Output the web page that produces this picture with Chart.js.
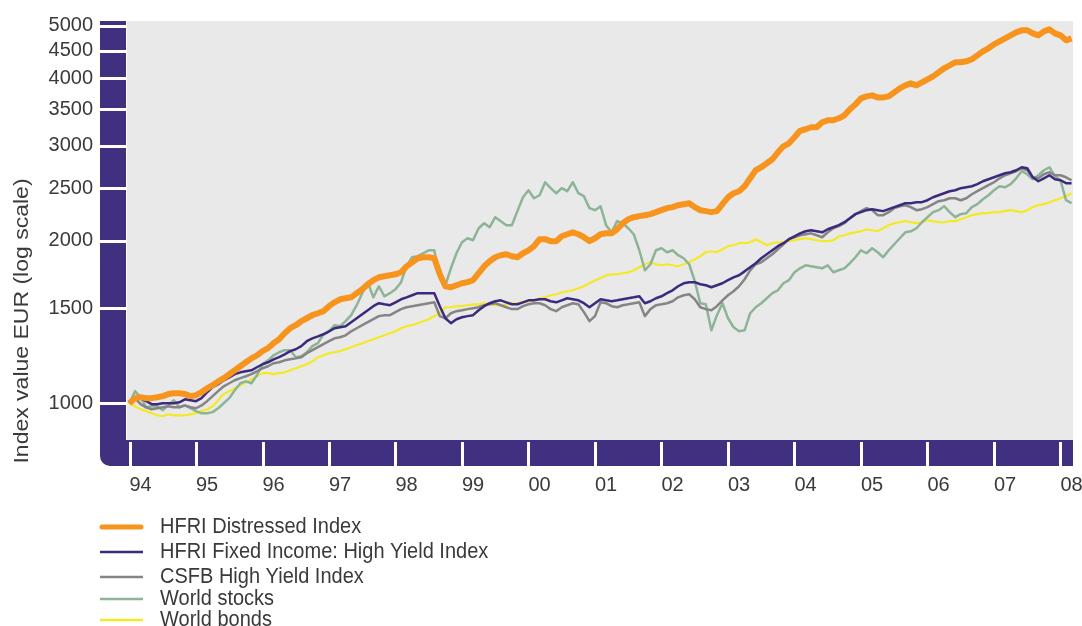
<!DOCTYPE html>
<html>
<head>
<meta charset="utf-8">
<script src="https://cdn.jsdelivr.net/npm/chart.js@4.4.1/dist/chart.umd.min.js"></script>
<style>
    html, body { margin: 0; padding: 0; background: #fff; }
</style>
</head>
<body>
<canvas id="graficoIndices" width="1082" height="626"></canvas>
<script>
// eje x: un punto por mes desde enero 1994
const primerAnio = 1994;
const yearLabels = ['94','95','96','97','98','99','00','01','02','03','04','05','06','07','08'];
const yTicks = [1000, 1500, 2000, 2500, 3000, 3500, 4000, 4500, 5000];

const seriesNames = [
    'HFRI Distressed Index',
    'HFRI Fixed Income: High Yield Index',
    'CSFB High Yield Index',
    'World stocks',
    'World bonds'
];

const distressed = [
    1000,1022,1026,1022,1022,1026,1031,1040,1044,1044,1040,1031,
    1035,1048,1066,1080,1098,1113,1132,1151,1171,1191,1211,1227,
    1249,1265,1292,1314,1348,1377,1395,1419,1437,1456,1468,1481,
    1513,1538,1558,1565,1571,1599,1626,1661,1690,1711,1719,1726,
    1733,1748,1793,1824,1856,1864,1864,1856,1733,1647,1640,1654,
    1668,1676,1690,1741,1793,1832,1864,1880,1888,1872,1864,1896,
    1920,1954,2013,2013,1996,1996,2038,2056,2073,2056,2030,1996,
    2021,2056,2064,2064,2100,2155,2192,2211,2221,2230,2240,2259,
    2278,2298,2308,2327,2337,2347,2308,2278,2269,2259,2269,2337,
    2407,2449,2470,2523,2610,2701,2736,2783,2830,2916,2991,3030,
    3109,3196,3217,3244,3244,3314,3342,3342,3371,3414,3502,3577,
    3670,3701,3717,3685,3685,3701,3765,3830,3879,3913,3879,3929,
    3980,4031,4101,4172,4225,4280,4280,4298,4335,4409,4485,4543,
    4621,4680,4740,4801,4863,4904,4904,4842,4801,4884,4925,4842,
    4801,4700,4740
];

const fixedIncomeHY = [
    1000,1026,1022,1009,996,996,1000,1000,1000,1004,1017,1013,
    1009,1022,1048,1071,1085,1103,1117,1132,1141,1146,1151,1166,
    1181,1191,1206,1217,1232,1249,1259,1276,1303,1319,1330,1342,
    1359,1377,1383,1389,1413,1437,1462,1487,1513,1532,1525,1519,
    1538,1558,1571,1585,1599,1599,1599,1599,1513,1437,1407,1431,
    1443,1450,1456,1487,1513,1532,1545,1551,1538,1525,1525,1538,
    1551,1551,1558,1558,1545,1538,1551,1565,1558,1551,1532,1506,
    1532,1558,1551,1545,1551,1558,1565,1571,1578,1532,1545,1565,
    1578,1599,1619,1647,1668,1676,1676,1661,1654,1640,1654,1668,
    1690,1711,1726,1755,1786,1817,1856,1888,1920,1954,1979,2013,
    2038,2064,2082,2091,2082,2073,2100,2118,2137,2164,2202,2240,
    2259,2278,2288,2278,2269,2288,2308,2327,2347,2347,2357,2357,
    2377,2407,2428,2449,2470,2480,2502,2512,2523,2545,2577,2599,
    2621,2644,2667,2678,2701,2736,2724,2621,2577,2610,2644,2599,
    2588,2556,2556
];

const csfbHY = [
    1000,1022,996,983,975,979,983,987,983,983,991,983,
    979,991,1009,1031,1053,1075,1089,1103,1113,1122,1132,1146,
    1161,1171,1186,1191,1201,1206,1211,1217,1238,1254,1270,1287,
    1303,1319,1325,1336,1359,1377,1395,1413,1431,1450,1456,1456,
    1475,1494,1506,1513,1519,1525,1532,1538,1450,1437,1468,1481,
    1487,1494,1500,1506,1519,1525,1532,1519,1506,1494,1494,1513,
    1525,1532,1532,1519,1494,1481,1506,1519,1532,1525,1475,1419,
    1450,1538,1532,1513,1506,1519,1525,1532,1538,1450,1494,1519,
    1525,1532,1545,1571,1585,1592,1558,1506,1494,1487,1513,1551,
    1585,1612,1647,1697,1763,1809,1824,1856,1888,1928,1970,2013,
    2030,2047,2056,2064,2047,2030,2073,2109,2128,2155,2202,2240,
    2269,2298,2278,2230,2230,2259,2298,2317,2327,2308,2278,2288,
    2308,2337,2367,2377,2397,2397,2377,2397,2438,2470,2502,2534,
    2566,2610,2644,2667,2690,2724,2701,2621,2610,2655,2678,2644,
    2644,2621,2588
];

const worldStocks = [
    1000,1053,1026,983,987,987,971,991,1013,983,991,979,
    967,958,958,963,979,1000,1022,1057,1089,1098,1089,1127,
    1181,1201,1227,1243,1254,1254,1217,1222,1243,1276,1292,1342,
    1359,1395,1389,1419,1456,1519,1599,1676,1571,1647,1578,1599,
    1626,1676,1793,1864,1872,1896,1920,1920,1704,1654,1778,1896,
    1987,2021,2004,2109,2155,2118,2211,2174,2137,2137,2269,2407,
    2480,2397,2428,2566,2502,2449,2502,2470,2566,2449,2418,2298,
    2278,2317,2137,2073,2174,2155,2109,2056,1920,1763,1809,1920,
    1937,1904,1920,1880,1856,1809,1683,1532,1525,1365,1456,1532,
    1437,1383,1359,1365,1468,1506,1532,1565,1599,1619,1668,1690,
    1748,1778,1801,1793,1786,1778,1801,1748,1763,1778,1817,1864,
    1920,1896,1937,1904,1864,1920,1970,2021,2073,2082,2109,2164,
    2211,2259,2278,2317,2259,2211,2240,2249,2308,2337,2387,2428,
    2480,2523,2512,2545,2610,2690,2655,2599,2644,2701,2736,2633,
    2588,2377,2347
];

const worldBonds = [
    1000,987,975,967,958,950,946,954,950,950,950,954,
    958,967,975,987,1013,1040,1053,1066,1080,1094,1108,1122,
    1137,1137,1132,1137,1141,1151,1161,1171,1181,1196,1217,1227,
    1238,1243,1249,1259,1270,1281,1292,1303,1314,1325,1336,1348,
    1359,1377,1389,1395,1407,1419,1431,1450,1468,1506,1506,1513,
    1513,1519,1525,1525,1532,1525,1519,1519,1525,1532,1532,1538,
    1545,1551,1565,1571,1585,1592,1605,1612,1619,1633,1647,1668,
    1690,1704,1726,1733,1733,1741,1748,1763,1786,1809,1824,1809,
    1801,1809,1801,1793,1809,1824,1848,1872,1904,1912,1904,1928,
    1954,1962,1979,1979,1987,2013,1987,1962,1979,1987,1987,1996,
    2004,2013,2021,2013,2004,1996,1996,2004,2038,2047,2064,2073,
    2082,2100,2091,2082,2109,2137,2155,2164,2174,2164,2155,2164,
    2183,2174,2164,2164,2174,2174,2192,2211,2230,2240,2249,2249,
    2259,2259,2269,2278,2269,2259,2278,2308,2327,2337,2357,2377,
    2397,2418,2449
];

function aPuntos(valores) {
    return valores.map(function (v, i) {
        return { x: primerAnio + i / 12, y: v };
    });
}

const morado = '#41307f';
const colorTexto = '#3a3a3a';
const fuente = "'Liberation Sans', Arial, Helvetica, sans-serif";

// fondo gris y marco morado con cortes blancos en cada marca
const marco = {
    id: 'marco',
    beforeDatasetsDraw(chart) {
        const ctx = chart.ctx;
        const a = chart.chartArea;
        const x = chart.scales.x;
        const y = chart.scales.y;
        const izq = 100, alto = 26, radio = 10;

        ctx.save();
        ctx.fillStyle = '#e9e9e9';
        ctx.fillRect(a.left, a.top, a.right - a.left, a.bottom - a.top);

        ctx.fillStyle = morado;
        ctx.beginPath();
        ctx.moveTo(izq, a.top);
        ctx.lineTo(a.left - 1, a.top);
        ctx.lineTo(a.left - 1, a.bottom);
        ctx.lineTo(a.right, a.bottom);
        ctx.lineTo(a.right, a.bottom + alto);
        ctx.lineTo(izq + radio, a.bottom + alto);
        ctx.arcTo(izq, a.bottom + alto, izq, a.bottom + alto - radio, radio);
        ctx.closePath();
        ctx.fill();

        ctx.strokeStyle = '#ffffff';
        ctx.lineWidth = 3;
        ctx.beginPath();
        yTicks.forEach(function (v) {
            const py = Math.round(y.getPixelForValue(v)) + 0.5;
            ctx.moveTo(izq - 1, py);
            ctx.lineTo(a.left - 1, py);
        });
        x.ticks.forEach(function (t) {
            const px = Math.round(x.getPixelForValue(t.value)) + 0.5;
            ctx.moveTo(px, a.bottom + 2);
            ctx.lineTo(px, a.bottom + alto + 1);
        });
        ctx.stroke();
        ctx.restore();
    }
};

// titulo vertical y leyenda en lista
const textos = {
    id: 'textos',
    afterDraw(chart) {
        const ctx = chart.ctx;
        ctx.save();
        ctx.fillStyle = colorTexto;
        ctx.font = '20px ' + fuente;
        ctx.textBaseline = 'middle';

        ctx.save();
        ctx.translate(22, 321);
        ctx.rotate(-Math.PI / 2);
        ctx.scale(1.15, 1);
        ctx.textAlign = 'center';
        ctx.fillText('Index value EUR (log scale)', 0, 0);
        ctx.restore();

        const filas = [527, 552, 577, 599, 620];
        ctx.textAlign = 'left';
        chart.data.datasets.forEach(function (ds, i) {
            const cy = filas[i];
            ctx.strokeStyle = ds.borderColor;
            ctx.lineWidth = i === 0 ? 5 : 2.5;
            ctx.lineCap = i === 0 ? 'round' : 'butt';
            ctx.beginPath();
            ctx.moveTo(i === 0 ? 102 : 100, cy);
            ctx.lineTo(i === 0 ? 141 : 143, cy);
            ctx.stroke();

            ctx.save();
            ctx.translate(160, cy);
            ctx.scale(1, 1.08);
            ctx.fillText(ds.label, 0, 0);
            ctx.restore();
        });
        ctx.restore();
    }
};

const colores = ['#f7941d', '#3b2a7e', '#858585', '#8db497', '#f4e925'];
const grosores = [6, 2.5, 2.5, 2.5, 2.2];
const datos = [distressed, fixedIncomeHY, csfbHY, worldStocks, worldBonds];

const datasets = datos.map(function (serie, i) {
    return {
        label: seriesNames[i],
        data: aPuntos(serie),
        borderColor: colores[i],
        backgroundColor: colores[i],
        borderWidth: grosores[i],
        pointRadius: 0,
        tension: 0,
        borderJoinStyle: 'round',
        fill: false
    };
});

new Chart(document.getElementById('graficoIndices'), {
    type: 'line',
    data: { datasets: datasets },
    plugins: [marco, textos],
    options: {
        responsive: false,
        animation: false,
        events: [],
        layout: { padding: { top: 21, right: 9, bottom: 120, left: 0 } },
        plugins: {
            legend: { display: false },
            tooltip: { enabled: false }
        },
        scales: {
            x: {
                type: 'linear',
                min: primerAnio - 0.0376,
                max: 2008.188,
                grid: { display: false, drawTicks: false },
                border: { display: false },
                afterBuildTicks: function (scale) {
                    scale.ticks = yearLabels.map(function (s, i) { return { value: primerAnio + i }; });
                },
                afterFit: function (scale) {
                    scale.height = 66;
                    scale.paddingLeft = 0;
                    scale.paddingRight = 0;
                },
                ticks: {
                    align: 'start',
                    padding: 33,
                    color: colorTexto,
                    font: { family: fuente, size: 20 },
                    maxRotation: 0,
                    autoSkip: false,
                    callback: function (v, i) { return yearLabels[i]; }
                }
            },
            y: {
                type: 'logarithmic',
                min: 855,
                max: 5104,
                grid: { display: false, drawTicks: false },
                border: { display: false },
                afterBuildTicks: function (scale) {
                    scale.ticks = yTicks.map(function (v) { return { value: v }; });
                },
                afterFit: function (scale) {
                    scale.width = 127;
                    scale.paddingTop = 0;
                    scale.paddingBottom = 0;
                },
                ticks: {
                    padding: 34,
                    color: colorTexto,
                    font: { family: fuente, size: 20 },
                    autoSkip: false,
                    callback: function (v) { return String(v); }
                }
            }
        }
    }
});
</script>
</body>
</html>
